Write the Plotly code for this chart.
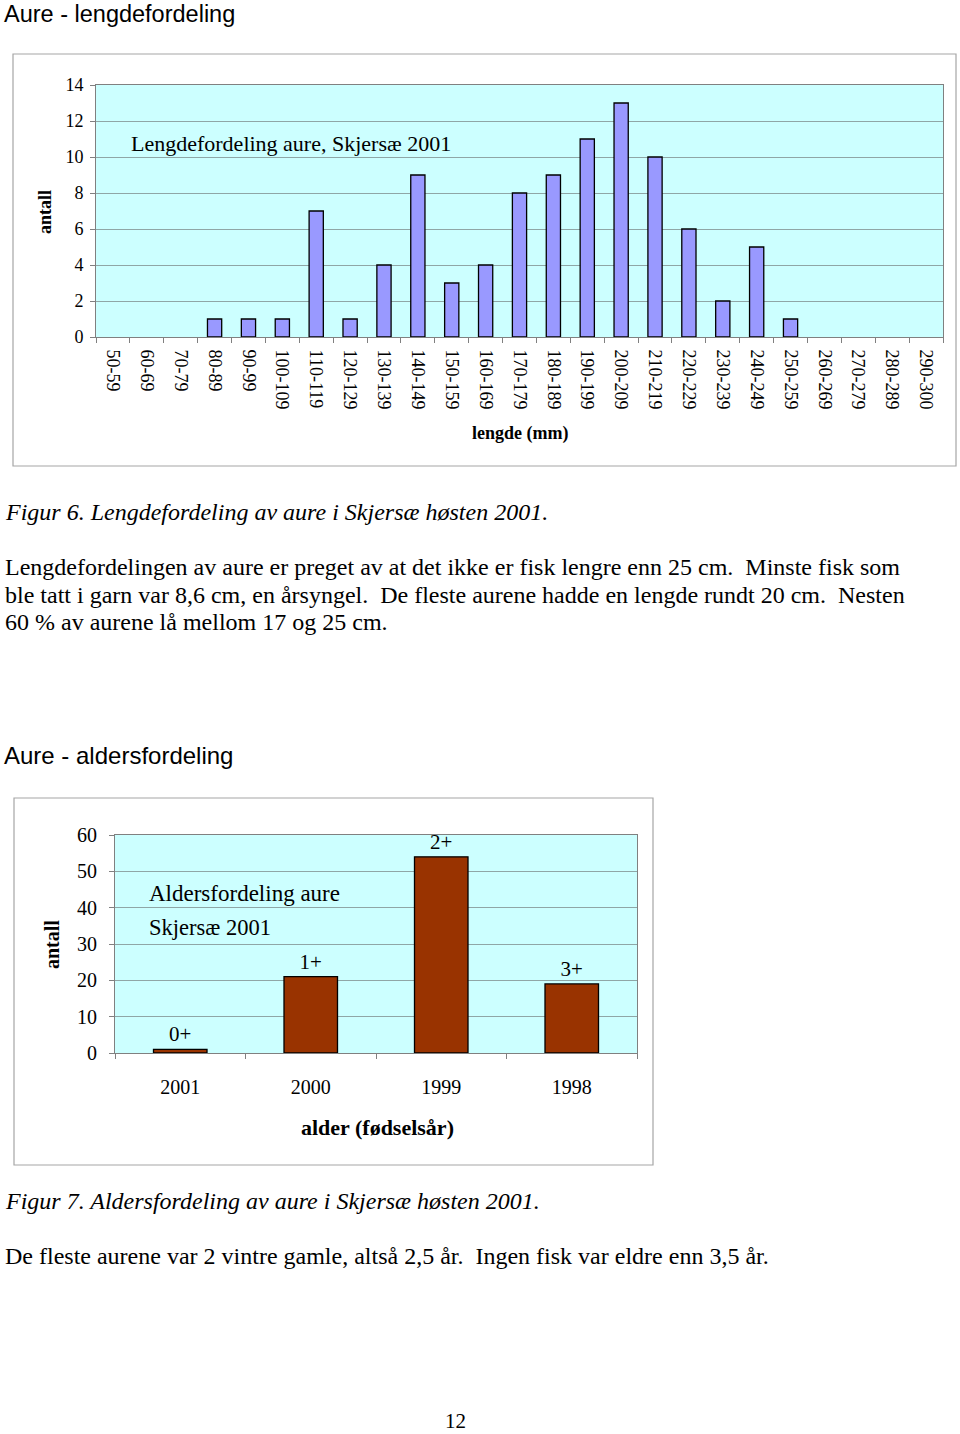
import plotly.graph_objects as go

W, H = 960, 1434

# ---------------- data ----------------
length_classes = ["50-59", "60-69", "70-79", "80-89", "90-99", "100-109", "110-119",
                  "120-129", "130-139", "140-149", "150-159", "160-169", "170-179",
                  "180-189", "190-199", "200-209", "210-219", "220-229", "230-239",
                  "240-249", "250-259", "260-269", "270-279", "280-289", "290-300"]
length_counts = [0, 0, 0, 1, 1, 1, 7, 1, 4, 9, 3, 4, 8, 9, 11, 13, 10, 6, 2, 5, 1, 0, 0, 0, 0]

birth_years = ["2001", "2000", "1999", "1998"]
age_groups = ["0+", "1+", "2+", "3+"]
age_counts = [1, 21, 54, 19]

SERIF = "Liberation Serif, Times New Roman, serif"
SANS = "Liberation Sans, Arial, sans-serif"


def px(x):
    return x / W


def py(y):
    return 1 - y / H


fig = go.Figure()

fig.add_trace(go.Bar(
    x=length_classes, y=length_counts,
    marker=dict(color="#9999FF",
                line=dict(color="black", width=[1.3 if v > 0 else 0 for v in length_counts])),
    width=0.42, xaxis="x", yaxis="y", showlegend=False,
))

fig.add_trace(go.Bar(
    x=birth_years, y=age_counts, text=age_groups, textposition="outside",
    textfont=dict(family=SERIF, size=21, color="black"),
    cliponaxis=False,
    marker=dict(color="#993300", line=dict(color="black", width=1.3)),
    width=0.41, xaxis="x2", yaxis="y2", showlegend=False,
))

grid = "#8FA6A6"
axis_line = "#808080"

fig.update_layout(
    template="none",
    width=W, height=H,
    margin=dict(l=0, r=0, t=0, b=0, pad=0, autoexpand=False),
    paper_bgcolor="white",
    plot_bgcolor="#CCFFFF",
    showlegend=False,
    xaxis=dict(
        domain=[px(96), px(943)], anchor="y", type="category", automargin=False,
        tickangle=90, tickfont=dict(family=SERIF, size=18, color="black"),
        ticks="outside", ticklen=5, tickcolor=axis_line, tickson="boundaries",
        showline=True, linecolor=axis_line, mirror=True, showgrid=False,
        ticklabelstandoff=8,
    ),
    yaxis=dict(
        domain=[py(337), py(85)], anchor="x", range=[0, 14], dtick=2, automargin=False,
        tickfont=dict(family=SERIF, size=18, color="black"),
        ticks="outside", ticklen=5, tickcolor=axis_line, ticklabelstandoff=3,
        showline=True, linecolor=axis_line, mirror=True,
        showgrid=True, gridcolor=grid, zeroline=False,
    ),
    xaxis2=dict(
        domain=[px(115), px(637)], anchor="y2", type="category", automargin=False,
        tickfont=dict(family=SERIF, size=20, color="black"),
        ticks="outside", ticklen=5, tickcolor=axis_line, tickson="boundaries",
        showline=True, linecolor=axis_line, mirror=True, showgrid=False,
        ticklabelstandoff=16,
    ),
    yaxis2=dict(
        domain=[py(1053), py(835)], anchor="x2", range=[0, 60], dtick=10, automargin=False,
        tickfont=dict(family=SERIF, size=20, color="black"),
        ticks="outside", ticklen=5, tickcolor=axis_line, ticklabelstandoff=8,
        showline=True, linecolor=axis_line, mirror=True,
        showgrid=True, gridcolor=grid, zeroline=False,
    ),
)

# chart frames
fig.add_shape(type="rect", xref="paper", yref="paper",
              x0=px(13), x1=px(956), y0=py(466), y1=py(54),
              line=dict(color="#A6A6A6", width=1.2), fillcolor="rgba(0,0,0,0)", layer="below")
fig.add_shape(type="rect", xref="paper", yref="paper",
              x0=px(14), x1=px(653), y0=py(1165), y1=py(798),
              line=dict(color="#A6A6A6", width=1.2), fillcolor="rgba(0,0,0,0)", layer="below")


def text(x, y, s, size, family=SERIF, xanchor="left", yanchor="middle", angle=0, bold=False, italic=False):
    if bold:
        s = "<b>" + s + "</b>"
    if italic:
        s = "<i>" + s + "</i>"
    fig.add_annotation(x=px(x), y=py(y), xref="paper", yref="paper", text=s,
                       showarrow=False, xanchor=xanchor, yanchor=yanchor, textangle=angle,
                       borderpad=0,
                       font=dict(family=family, size=size, color="black"))


# page texts
text(3, 0, "Aure - lengdefordeling", 23.5, family=SANS, yanchor="top")
text(130, 143, "Lengdefordeling aure, Skjersæ 2001", 22)
text(45, 212, "antall", 18, xanchor="center", angle=-90, bold=True)
text(520, 433, "lengde (mm)", 18, xanchor="center", bold=True)

text(4, 512, "Figur 6. Lengdefordeling av aure i Skjersæ høsten 2001.", 24, italic=True)
text(4, 567, "Lengdefordelingen av aure er preget av at det ikke er fisk lengre enn 25 cm.  Minste fisk som", 24)
text(4, 595, "ble tatt i garn var 8,6 cm, en årsyngel.  De fleste aurene hadde en lengde rundt 20 cm.  Nesten", 24)
text(4, 622, "60 % av aurene lå mellom 17 og 25 cm.", 24)

text(3, 755, "Aure - aldersfordeling", 24, family=SANS)
text(148, 893, "Aldersfordeling aure", 23)
text(148, 927, "Skjersæ 2001", 22.5)
text(52, 945, "antall", 20, xanchor="center", angle=-90, bold=True)
text(377, 1127, "alder (fødselsår)", 22, xanchor="center", bold=True)

text(4, 1201, "Figur 7. Aldersfordeling av aure i Skjersæ høsten 2001.", 24, italic=True)
text(4, 1256, "De fleste aurene var 2 vintre gamle, altså 2,5 år.  Ingen fisk var eldre enn 3,5 år.", 24)
text(455, 1434, "12", 21, xanchor="center", yanchor="bottom")

fig.write_html("out.html")
